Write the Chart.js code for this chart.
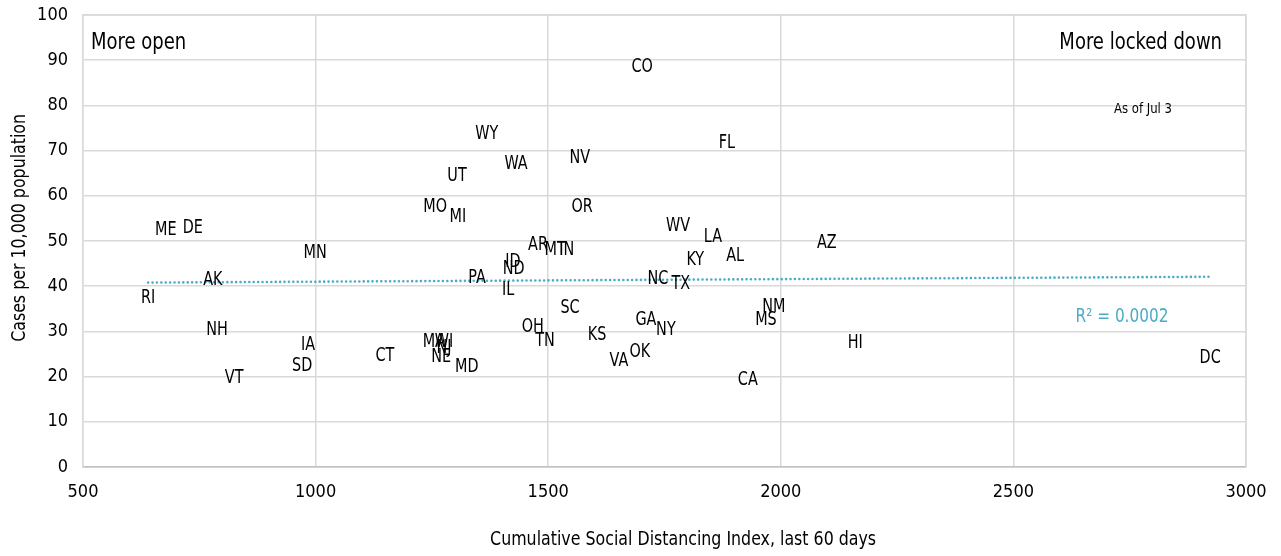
<!DOCTYPE html>
<html>
<head>
<meta charset="utf-8">
<script src="https://cdn.jsdelivr.net/npm/chart.js@4"></script>
<style>
html,body{margin:0;padding:0;background:#fff;}
#wrap{width:1281px;height:556px;position:relative;}
</style>
</head>
<body>
<div id="wrap"><canvas id="c" width="1281" height="556"></canvas></div>
<script>
// ---- data ----
const states = ["CO","WY","FL","NV","WA","UT","MO","OR","MI","ME","DE","WV","LA","AZ","AR","MT","IN","MN","AL","KY","ID","ND","PA","NC","AK","TX","IL","RI","NM","SC","MS","GA","OH","NY","NH","KS","TN","HI","IA","MA","WI","NJ","NE","CT","OK","DC","VA","SD","MD","VT","CA"];
const distancingIndex = [1702,1368,1884,1568,1431,1304,1257,1573,1306,678,736,1779,1854,2099,1478,1515,1540,999,1902,1816,1424,1426,1347,1736,779,1785,1414,640,1985,1547,1968,1710,1467,1753,788,1605,1493,2160,984,1254,1276,1276,1270,1149,1697,2923,1652,971,1325,825,1929];
const casesPer10k = [88.5,73.7,71.7,68.4,67.0,64.4,57.5,57.5,55.3,52.4,52.9,53.3,50.9,49.6,49.1,48.0,48.0,47.3,46.7,45.8,45.4,43.8,41.8,41.6,41.4,40.5,39.2,37.4,35.4,35.2,32.5,32.5,31.0,30.3,30.3,29.2,27.9,27.4,27.0,27.7,27.7,26.3,24.3,24.6,25.4,24.1,23.5,22.3,22.1,19.7,19.2];
const xTicks = [500,1000,1500,2000,2500,3000];
const yTicks = [0,10,20,30,40,50,60,70,80,90,100];
const xTitle = "Cumulative Social Distancing Index, last 60 days";
const yTitle = "Cases per 10,000 population";
const noteLeft = "More open";
const noteRight = "More locked down";
const noteDate = "As of Jul 3";
const r2Text = "R² = 0.0002";

// ---- linear trend from the data ----
const n = distancingIndex.length;
const mx = distancingIndex.reduce((a,b)=>a+b,0)/n;
const my = casesPer10k.reduce((a,b)=>a+b,0)/n;
let sxy=0, sxx=0;
for (let i=0;i<n;i++){ sxy += (distancingIndex[i]-mx)*(casesPer10k[i]-my); sxx += (distancingIndex[i]-mx)**2; }
const slope = sxy/sxx, intercept = my - slope*mx;
const xMin = Math.min(...distancingIndex), xMax = Math.max(...distancingIndex);
const trendPts = [{x:xMin,y:intercept+slope*xMin},{x:xMax,y:intercept+slope*xMax}];

const FONT = "'Liberation Sans Narrow','DejaVu Sans Condensed','Liberation Sans',sans-serif";
const TEAL = "rgb(75,172,198)";

function tallText(ctx, txt, x, y, sy){
  ctx.save(); ctx.translate(x, y); ctx.scale(1, sy); ctx.fillText(txt, 0, 0); ctx.restore();
}

const labelPlugin = {
  id:'stateLabels',
  afterDatasetsDraw(chart){
    const ctx = chart.ctx;
    const meta = chart.getDatasetMeta(0);
    ctx.save();
    ctx.font = "16px " + FONT;
    ctx.fillStyle = "#000";
    ctx.textAlign = "center";
    ctx.textBaseline = "middle";
    meta.data.forEach((pt,i)=>{ tallText(ctx, states[i], pt.x, pt.y, 1.18); });
    const a = chart.chartArea;
    ctx.font = "20px " + FONT;
    ctx.textAlign = "left";
    tallText(ctx, noteLeft, a.left + 8, a.top + 28, 1.15);
    ctx.textAlign = "right";
    tallText(ctx, noteRight, a.right - 24, a.top + 28, 1.15);
    ctx.font = "13px " + FONT;
    ctx.textAlign = "center";
    tallText(ctx, noteDate, a.right - 103, a.top + 94, 1.1);
    ctx.font = "17px " + FONT;
    ctx.fillStyle = TEAL;
    tallText(ctx, r2Text, a.right - 124, a.top + 302, 1.12);
    // axis titles
    ctx.fillStyle = "#000";
    ctx.font = "17.6px " + FONT;
    ctx.textAlign = "center";
    tallText(ctx, xTitle, a.left + (a.right - a.left) * 0.516, a.bottom + 73, 1.12);
    ctx.save();
    ctx.translate(20, a.top + (a.bottom - a.top) * 0.471);
    ctx.rotate(-Math.PI/2);
    ctx.scale(1, 1.12);
    ctx.fillText(yTitle, 0, 0);
    ctx.restore();
    ctx.restore();
  }
};

new Chart(document.getElementById('c'), {
  type:'scatter',
  data:{
    datasets:[
      {data: distancingIndex.map((x,i)=>({x, y:casesPer10k[i]})), pointRadius:0, pointHoverRadius:0, showLine:false},
      {type:'line', data: trendPts, borderColor:TEAL, borderWidth:2.6, borderDash:[0,4.4], borderCapStyle:'round', pointRadius:0, fill:false, tension:0}
    ]
  },
  options:{
    responsive:false, animation:false, devicePixelRatio:1,
    layout:{padding:{top:15,right:35,left:0,bottom:0}},
    plugins:{legend:{display:false}, tooltip:{enabled:false}},
    scales:{
      x:{type:'linear', min:500, max:3000,
        afterBuildTicks(s){ s.ticks = xTicks.map(v=>({value:v})); },
        afterFit(s){ s.height = 89; s.paddingLeft = 0; s.paddingRight = 0; },
        grid:{color:'#d9d9d9', lineWidth:1.5, drawTicks:false},
        border:{color:'#bfbfbf', width:1.5},
        ticks:{padding:15, maxRotation:0, font:{family:FONT, size:18}, color:'#000', callback:v=>String(v)},
        title:{display:false}
      },
      y:{type:'linear', min:0, max:100,
        afterBuildTicks(s){ s.ticks = yTicks.map(v=>({value:v})); },
        afterFit(s){ s.width = 83; s.paddingTop = 0; s.paddingBottom = 0; },
        grid:{color:'#d9d9d9', lineWidth:1.5, drawTicks:false},
        border:{color:'#d9d9d9', width:1.5},
        ticks:{padding:15, font:{family:FONT, size:18}, color:'#000', callback:v=>String(v)},
        title:{display:false}
      }
    }
  },
  plugins:[labelPlugin, {
    id:'frame',
    afterDraw(chart){
      const a = chart.chartArea, ctx = chart.ctx;
      ctx.save(); ctx.strokeStyle='#d9d9d9'; ctx.lineWidth=1.5;
      ctx.beginPath(); ctx.moveTo(a.left,a.top); ctx.lineTo(a.right,a.top); ctx.lineTo(a.right,a.bottom); ctx.stroke();
      ctx.restore();
    }
  }]
});
</script>
</body>
</html>
